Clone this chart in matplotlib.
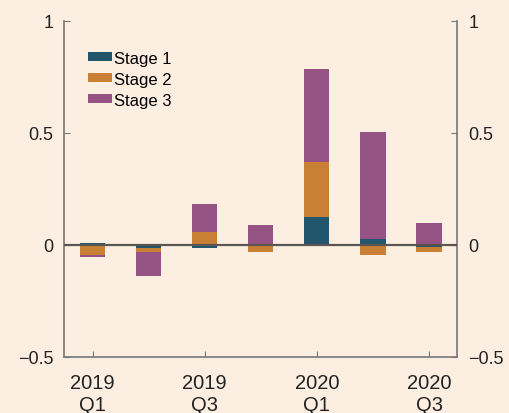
import numpy as np
import matplotlib.pyplot as plt
from matplotlib.patches import Patch

plt.rcParams['font.family'] = ['Liberation Sans', 'DejaVu Sans']

quarters = ['2019 Q1', '2019 Q2', '2019 Q3', '2019 Q4', '2020 Q1', '2020 Q2', '2020 Q3']
tick_labels = ['2019\nQ1', '2019\nQ3', '2020\nQ1', '2020\nQ3']
stage1 = [0.01, -0.012, -0.015, -0.005, 0.125, 0.027, -0.01]
stage2 = [-0.045, -0.018, 0.06, -0.025, 0.245, -0.045, -0.02]
stage3 = [-0.01, -0.11, 0.125, 0.09, 0.415, 0.478, 0.098]

bg = '#fcefe2'
colors = ['#22566c', '#c98035', '#955383']
names = ['Stage 1', 'Stage 2', 'Stage 3']

fig = plt.figure(figsize=(5.09, 4.14), dpi=100, facecolor=bg)
ax = fig.add_axes([0.1267, 0.1353, 0.7713, 0.8116])
ax.set_facecolor(bg)

x = np.arange(len(quarters))
pos = np.zeros(len(x))
neg = np.zeros(len(x))
# positives stack upward from zero, negatives stack downward
for vals, c in zip([stage1, stage2, stage3], colors):
    v = np.array(vals)
    base = np.where(v >= 0, pos, neg)
    ax.bar(x, v, width=0.45, bottom=base, color=c, edgecolor='none', zorder=2)
    pos += np.where(v >= 0, v, 0)
    neg += np.where(v < 0, v, 0)

ax.axhline(0, color='#5a5550', lw=1.6, zorder=3)

ax.set_xlim(-0.5, 6.5)
ax.set_ylim(-0.5, 1)
ax.set_yticks([-0.5, 0, 0.5, 1])
ax.set_yticklabels(['\u22120.5', '0', '0.5', '1'])
ax.set_xticks(x[::2])
ax.set_xticklabels(tick_labels)
ax.tick_params(axis='both', direction='in', length=4, color='#777777',
               labelcolor='#222222')
ax.tick_params(axis='y', right=True, labelright=True, pad=8, labelsize=13)
ax.tick_params(axis='x', pad=11.5, labelsize=14.5)
for lbl in ax.get_xticklabels():
    lbl.set_linespacing(1.2)

ax.spines['top'].set_visible(False)
for s in ['left', 'right', 'bottom']:
    ax.spines[s].set_color('#777777')
    ax.spines[s].set_linewidth(1.2)

handles = [Patch(facecolor=c, label=n) for c, n in zip(colors, names)]
ax.legend(handles=handles, loc='upper left', bbox_to_anchor=(0.06, 0.912),
          frameon=False, fontsize=12, handlelength=1.45, handleheight=0.42,
          handletextpad=0.12, labelspacing=0.36, borderpad=0, borderaxespad=0)

fig.savefig('out.png', dpi=100, facecolor=bg)
